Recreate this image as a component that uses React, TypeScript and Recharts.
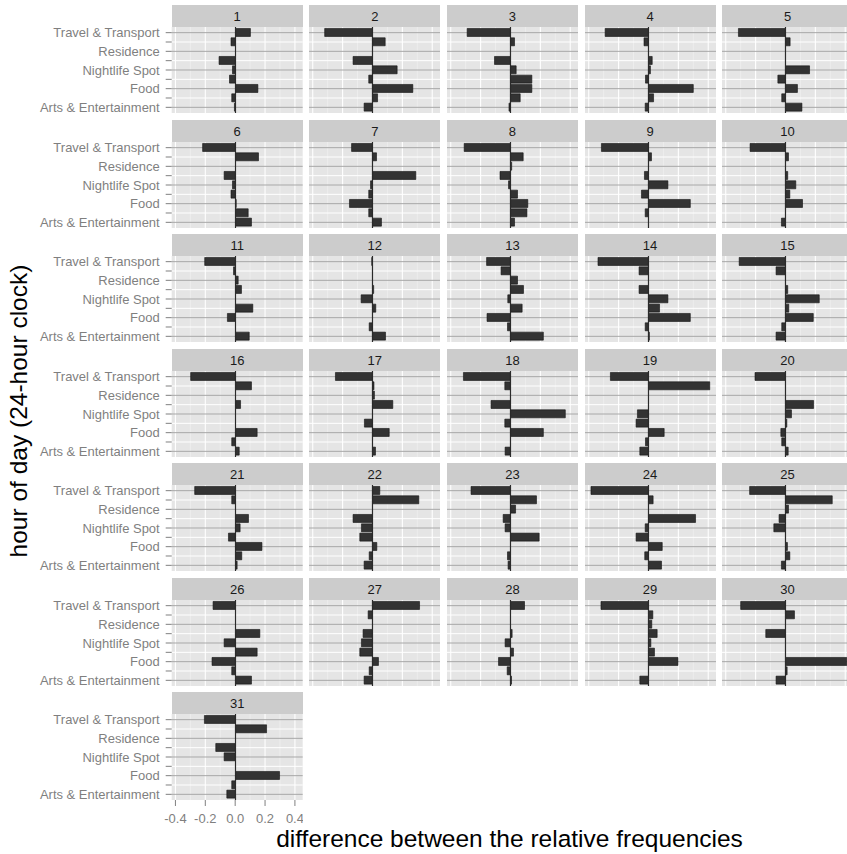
import React from 'react';
import { BarChart, Bar, XAxis, YAxis, ReferenceLine, CartesianGrid } from 'recharts';

// Venue categories, top to bottom in every panel
const categories = [
  'Travel & Transport',
  'Shop & Service',
  'Residence',
  'Professional & Other Places',
  'Nightlife Spot',
  'Great Outdoors',
  'Food',
  'College & University',
  'Arts & Entertainment',
];
// Only every other category gets a written tick label
const labeledCategories = ['Travel & Transport', 'Residence', 'Nightlife Spot', 'Food', 'Arts & Entertainment'];

// Facet labels
const hours = [1, 2, 3, 4, 5, 6, 7, 8, 9, 10, 11, 12, 13, 14, 15, 16, 17, 18, 19, 20, 21, 22, 23, 24, 25, 26, 27, 28, 29, 30, 31];

const xTicks = [-0.4, -0.2, 0, 0.2, 0.4];
const xMinorGrid = [-0.3, -0.1, 0.1, 0.3];
const xDomain = [-0.425, 0.452];

// Difference between the relative frequencies, one entry per facet (1..31)
const travelTransport = [0.10, -0.32, -0.29, -0.29, -0.315, -0.22, -0.14, -0.31, -0.315, -0.237, -0.206, -0.005, -0.16, -0.338, -0.31, -0.30, -0.248, -0.315, -0.255, -0.204, -0.273, 0.049, -0.264, -0.385, -0.24, -0.15, 0.315, 0.094, -0.318, -0.30, -0.208];
const shopService = [-0.03, 0.085, 0.027, -0.03, 0.031, 0.154, 0.027, 0.085, 0.02, 0.02, -0.013, 0, -0.063, -0.063, -0.063, 0.107, 0.01, -0.038, 0.41, 0, -0.025, 0.31, 0.174, 0.031, 0.313, 0, -0.029, 0, 0.029, 0.06, 0.208];
const residence = [0, 0, 0, 0, 0, 0, 0, 0.008, 0, 0, 0.018, 0, 0.047, 0, 0, 0, 0.013, 0, 0, 0, 0, 0, 0.034, 0, 0.02, 0, 0, 0, 0.022, 0, 0];
const professional = [-0.11, -0.13, -0.107, 0.025, 0, -0.076, 0.29, -0.07, -0.027, 0.015, 0.04, 0.008, 0.087, -0.063, 0.015, 0.034, 0.136, -0.13, 0, 0.188, 0.087, -0.13, -0.049, 0.315, -0.043, 0.163, -0.063, 0.011, 0.058, -0.132, -0.132];
const nightlife = [-0.02, 0.165, 0.038, 0.013, 0.161, -0.02, -0.013, -0.013, 0.13, 0.069, 0, -0.076, -0.018, 0.13, 0.226, 0, 0, 0.367, -0.074, 0.04, 0.031, -0.074, -0.036, -0.022, -0.078, -0.076, -0.074, -0.036, 0.016, 0, -0.076];
const outdoors = [-0.04, -0.025, 0.143, -0.02, -0.051, -0.03, -0.025, 0.047, -0.047, 0.029, 0.116, 0.022, 0.078, 0.074, 0.022, 0, -0.054, -0.038, -0.083, 0.009, -0.047, -0.085, 0.192, -0.083, 0, 0.145, -0.085, 0.02, 0.04, 0, 0];
const food = [0.15, 0.27, 0.143, 0.30, 0.08, 0.005, -0.154, 0.116, 0.28, 0.114, -0.054, 0, -0.157, 0.28, 0.186, 0.145, 0.112, 0.22, 0.105, -0.031, 0.177, 0.029, 0, 0.092, 0.013, -0.157, 0.04, -0.08, 0.197, 0.41, 0.295];
const college = [-0.025, 0.034, 0.065, 0.034, -0.025, 0.085, -0.025, 0.11, -0.022, 0, 0, -0.022, -0.02, -0.022, -0.025, -0.025, 0, 0, -0.02, -0.025, 0.042, -0.022, -0.02, -0.025, 0.029, -0.025, -0.022, -0.022, 0, 0.011, -0.025];
const arts = [-0.007, -0.056, -0.01, -0.022, 0.11, 0.107, 0.06, 0.027, 0, -0.027, 0.092, 0.087, 0.22, 0.006, -0.063, 0.025, 0.02, -0.036, -0.058, 0.018, 0.011, -0.056, -0.016, 0.087, -0.027, 0.107, -0.056, 0.007, -0.058, -0.063, -0.058];

const seriesByCategory = [travelTransport, shopService, residence, professional, nightlife, outdoors, food, college, arts];

// Facet layout
const N_COLS = 5;
const PANEL_W = 131;
const PLOT_H = 86;
const STRIP_H = 22;
const COL_X0 = 171.7;
const COL_STEP = 137.6;
const ROW_Y0 = 5;
const ROW_STEP = 114.5;
const X_AXIS_H = 40;

const FONT = '"Liberation Sans", Arial, Helvetica, sans-serif';
const AXIS_TEXT = '#7F7F7F';
const NO_MARGIN = { top: 0, right: 0, bottom: 0, left: 0 };
const Y_PAD = { top: 1, bottom: 1 };

function rowsForHour(hourIndex: number) {
  return categories.map((category, j) => ({ category, value: seriesByCategory[j][hourIndex] }));
}

function Panel({ hour, index }: { hour: number; index: number }) {
  const col = index % N_COLS;
  const row = Math.floor(index / N_COLS);
  const plotLeft = COL_X0 + col * COL_STEP;
  const stripTop = ROW_Y0 + row * ROW_STEP;
  const plotTop = stripTop + STRIP_H;
  const showY = col === 0;
  const showX = index === hours.length - 1;
  const frameLeft = showY ? 0 : plotLeft;
  const frameWidth = showY ? plotLeft + PANEL_W : PANEL_W;
  const frameHeight = PLOT_H + (showX ? X_AXIS_H : 0);
  const data = rowsForHour(index);

  return (
    <>
      <div
        style={{
          position: 'absolute',
          left: plotLeft,
          top: stripTop,
          width: PANEL_W,
          height: STRIP_H,
          background: '#CCCCCC',
          color: '#1A1A1A',
          fontFamily: FONT,
          fontSize: 13,
          lineHeight: `${STRIP_H}px`,
          paddingTop: 1,
          boxSizing: 'border-box',
          textAlign: 'center',
        }}
      >
        {hour}
      </div>

      {/* panel frame: background, grid lines and axes */}
      <div style={{ position: 'absolute', left: frameLeft, top: plotTop }}>
        <BarChart width={frameWidth} height={frameHeight} data={data} layout="vertical" margin={NO_MARGIN}>
          <CartesianGrid fill="#E5E5E5" horizontal={false} vertical={false} stroke="none" />
          <XAxis
            type="number"
            domain={xDomain}
            allowDataOverflow
            ticks={xTicks}
            interval={0}
            hide={!showX}
            height={X_AXIS_H}
            axisLine={false}
            tickLine={{ stroke: AXIS_TEXT }}
            tickSize={6}
            tickMargin={8}
            tick={{ fontSize: 13, fill: AXIS_TEXT, fontFamily: FONT }}
            tickFormatter={(v: number) => v.toFixed(1)}
          />
          <YAxis
            type="category"
            dataKey="category"
            hide={!showY}
            width={COL_X0}
            interval={0}
            padding={Y_PAD}
            axisLine={false}
            tickLine={{ stroke: AXIS_TEXT }}
            tickSize={6}
            tickMargin={6}
            tick={{ fontSize: 13, fill: AXIS_TEXT, fontFamily: FONT }}
            tickFormatter={(c: string) => (labeledCategories.includes(c) ? c : '')}
          />
          {xMinorGrid.map((v) => (
            <ReferenceLine key={`minor${v}`} x={v} stroke="#F4F4F4" strokeWidth={0.6} />
          ))}
          {xTicks.map((v) => (
            <ReferenceLine key={`major${v}`} x={v} stroke="#FFFFFF" strokeWidth={1.1} />
          ))}
          {categories.map((c) => (
            <ReferenceLine
              key={c}
              y={c}
              stroke={labeledCategories.includes(c) ? '#A8A8A8' : '#FFFFFF'}
              strokeWidth={1}
            />
          ))}
        </BarChart>
      </div>

      {/* bars and the zero line, on the same scales, above the grid */}
      <div style={{ position: 'absolute', left: plotLeft, top: plotTop }}>
        <BarChart
          width={PANEL_W}
          height={PLOT_H}
          data={data}
          layout="vertical"
          margin={NO_MARGIN}
          barCategoryGap="5%"
        >
          <XAxis type="number" domain={xDomain} allowDataOverflow hide />
          <YAxis type="category" dataKey="category" hide padding={Y_PAD} />
          <Bar dataKey="value" fill="#333333" stroke="#111111" strokeWidth={0.6} isAnimationActive={false} />
          <ReferenceLine x={0} stroke="#2A2A2A" strokeWidth={1.2} />
        </BarChart>
      </div>
    </>
  );
}

export default function App() {
  return (
    <div
      style={{
        position: 'absolute',
        left: 0,
        top: 0,
        width: 847,
        height: 854,
        overflow: 'hidden',
        background: '#FFFFFF',
      }}
    >
      {hours.map((h, i) => (
        <Panel key={h} hour={h} index={i} />
      ))}
      <svg width={847} height={854} style={{ position: 'absolute', left: 0, top: 0, pointerEvents: 'none' }}>
        <text x={509.5} y={847} textAnchor="middle" fontFamily={FONT} fontSize={24.5} fill="#000000">
          difference between the relative frequencies
        </text>
        <text
          x={0}
          y={0}
          transform="translate(27 411) rotate(-90)"
          textAnchor="middle"
          fontFamily={FONT}
          fontSize={24.5}
          fill="#000000"
        >
          hour of day (24-hour clock)
        </text>
      </svg>
    </div>
  );
}
